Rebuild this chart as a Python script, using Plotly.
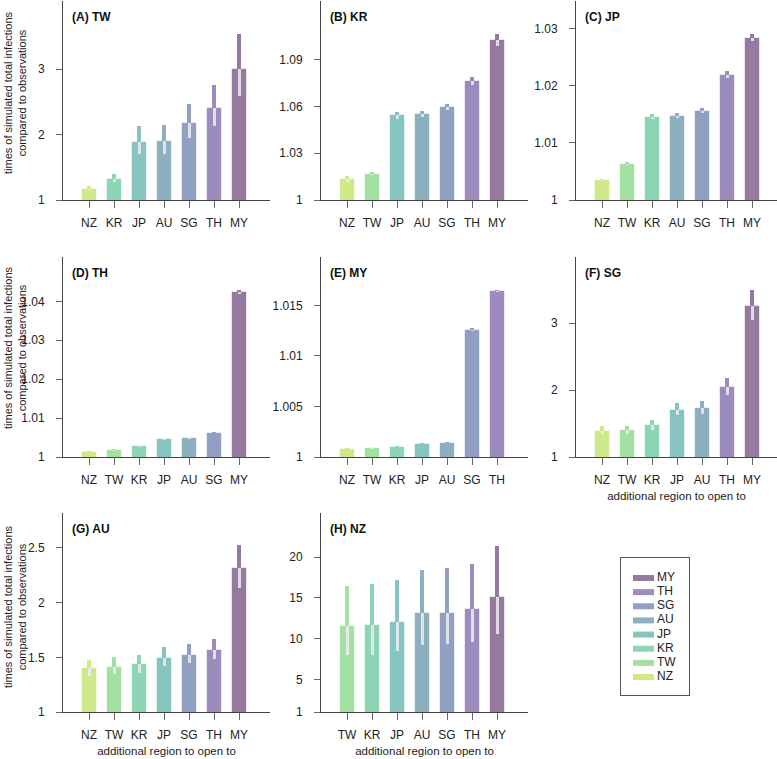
import plotly.graph_objects as go
from plotly.subplots import make_subplots

# colour per region
region_colors = {
    "NZ": "#cfe98a",
    "TW": "#a5e0a3",
    "KR": "#8cd5b5",
    "JP": "#87c3bf",
    "AU": "#8db0c0",
    "SG": "#909fc2",
    "TH": "#9b8cbd",
    "MY": "#957a9f",
}
legend_regions = ["NZ", "TW", "KR", "JP", "AU", "SG", "TH", "MY"]

# (A) TW
tw_regions = ["NZ", "KR", "JP", "AU", "SG", "TH", "MY"]
tw_median = [1.17, 1.325, 1.89, 1.90, 2.18, 2.40, 2.995]
tw_low = [1.15, 1.27, 1.70, 1.71, 1.95, 2.13, 2.59]
tw_high = [1.21, 1.40, 2.13, 2.14, 2.47, 2.76, 3.53]

# (B) KR
kr_regions = ["NZ", "TW", "JP", "AU", "SG", "TH", "MY"]
kr_median = [1.0135, 1.0169, 1.0543, 1.0552, 1.0597, 1.0763, 1.1026]
kr_low = [1.0113, 1.0158, 1.0522, 1.0530, 1.0577, 1.0736, 1.0990]
kr_high = [1.0152, 1.0175, 1.0564, 1.0573, 1.0618, 1.0791, 1.1067]

# (C) JP
jp_regions = ["NZ", "TW", "KR", "AU", "SG", "TH", "MY"]
jp_median = [1.0035, 1.00635, 1.0146, 1.0148, 1.0156, 1.0219, 1.02836]
jp_low = [1.0034, 1.0061, 1.0142, 1.0143, 1.0152, 1.0214, 1.0278]
jp_high = [1.00357, 1.0065, 1.0151, 1.0153, 1.0161, 1.0226, 1.02906]

# (D) TH
th_regions = ["NZ", "TW", "KR", "JP", "AU", "SG", "MY"]
th_median = [1.00137, 1.0017, 1.0027, 1.0045, 1.0048, 1.0062, 1.0423]
th_low = [1.00128, 1.0016, 1.00262, 1.00442, 1.00472, 1.00612, 1.0420]
th_high = [1.00145, 1.0019, 1.00278, 1.00458, 1.00488, 1.00628, 1.0428]

# (E) MY
my_regions = ["NZ", "TW", "KR", "JP", "AU", "SG", "TH"]
my_median = [1.00083, 1.00086, 1.00102, 1.00129, 1.00139, 1.01262, 1.01639]
my_low = [1.0008, 1.00083, 1.00099, 1.00126, 1.00136, 1.01252, 1.0163]
my_high = [1.00086, 1.00089, 1.00105, 1.00132, 1.00142, 1.01272, 1.01649]

# (F) SG
sg_regions = ["NZ", "TW", "KR", "JP", "AU", "TH", "MY"]
sg_median = [1.394, 1.40, 1.474, 1.70, 1.74, 2.05, 3.26]
sg_low = [1.34, 1.34, 1.41, 1.63, 1.65, 1.93, 3.045]
sg_high = [1.46, 1.47, 1.56, 1.80, 1.84, 2.18, 3.49]

# (G) AU
au_regions = ["NZ", "TW", "KR", "JP", "SG", "TH", "MY"]
au_median = [1.40, 1.415, 1.44, 1.497, 1.524, 1.57, 2.317]
au_low = [1.33, 1.345, 1.36, 1.42, 1.445, 1.485, 2.13]
au_high = [1.48, 1.50, 1.525, 1.59, 1.62, 1.67, 2.524]

# (H) NZ
nz_regions = ["TW", "KR", "JP", "AU", "SG", "TH", "MY"]
nz_median = [11.49, 11.65, 12.06, 13.08, 13.2, 13.57, 15.12]
nz_low = [7.94, 8.02, 8.43, 9.24, 9.37, 9.57, 10.59]
nz_high = [16.43, 16.71, 17.2, 18.43, 18.67, 19.2, 21.41]

panels = [
    ("(A) TW", tw_regions, tw_median, tw_low, tw_high, [1, 4.04], [1, 2, 3], ["1", "2", "3"]),
    ("(B) KR", kr_regions, kr_median, kr_low, kr_high, [1, 1.1276], [1, 1.03, 1.06, 1.09], ["1", "1.03", "1.06", "1.09"]),
    ("(C) JP", jp_regions, jp_median, jp_low, jp_high, [1, 1.0349], [1, 1.01, 1.02, 1.03], ["1", "1.01", "1.02", "1.03"]),
    ("(D) TH", th_regions, th_median, th_low, th_high, [1, 1.0514], [1, 1.01, 1.02, 1.03, 1.04], ["1", "1.01", "1.02", "1.03", "1.04"]),
    ("(E) MY", my_regions, my_median, my_low, my_high, [1, 1.0198], [1, 1.005, 1.01, 1.015], ["1", "1.005", "1.01", "1.015"]),
    ("(F) SG", sg_regions, sg_median, sg_low, sg_high, [1, 3.99], [1, 2, 3], ["1", "2", "3"]),
    ("(G) AU", au_regions, au_median, au_low, au_high, [1, 2.82], [1, 1.5, 2, 2.5], ["1", "1.5", "2", "2.5"]),
    ("(H) NZ", nz_regions, nz_median, nz_low, nz_high, [1, 25.4], [1, 5, 10, 15, 20], ["1", "5", "10", "15", "20"]),
]

W, H = 777, 759
col_px = [(63, 270), (321, 528), (576, 777)]
row_px = [(1, 200), (257, 457), (513, 712)]
ytitle_mid = [93, 348, 607]
FONT = "Liberation Sans, Arial, sans-serif"
TXT = "#222222"

fig = make_subplots(rows=3, cols=3)

for i, (title, regs, med, lo, hi, yr, tv, tt) in enumerate(panels):
    r, c = i // 3, i % 3
    cols = [region_colors[g] for g in regs]
    # main bar
    fig.add_trace(go.Bar(x=regs, y=med, width=0.6, marker=dict(color=cols, line=dict(color="rgba(255,255,255,0.6)", width=1)),
                         showlegend=False, hoverinfo="skip"), row=r + 1, col=c + 1)
    # upper part of the interval (coloured)
    fig.add_trace(go.Bar(x=regs, y=[h - m for h, m in zip(hi, med)], base=med, width=0.17,
                         marker=dict(color=cols, line=dict(width=0)), showlegend=False, hoverinfo="skip"), row=r + 1, col=c + 1)
    # lower part of the interval (light grey, inside the bar)
    fig.add_trace(go.Bar(x=regs, y=[m - l for m, l in zip(med, lo)], base=lo, width=0.12,
                         marker=dict(color="rgba(236,236,240,0.85)", line=dict(width=0)), showlegend=False, hoverinfo="skip"),
                  row=r + 1, col=c + 1)

    x0, x1 = col_px[c]
    top, bot = row_px[r]
    n = "" if i == 0 else str(i + 1)
    fig.layout["xaxis" + n].update(
        domain=[x0 / W, x1 / W], range=[-1.04, -1.04 + (x1 - x0) / 25.0], automargin=False,
        showline=True, linecolor="#444", linewidth=1, ticks="outside", ticklen=7, tickcolor="#666",
        showgrid=False, zeroline=False, tickfont=dict(size=12, color=TXT, family=FONT), ticklabelstandoff=5,
    )
    fig.layout["yaxis" + n].update(
        domain=[1 - bot / H, 1 - top / H], range=yr, tickvals=tv, ticktext=tt, automargin=False,
        showline=True, linecolor="#444", linewidth=1, ticks="outside", ticklen=6, tickcolor="#666",
        showgrid=False, zeroline=False, tickfont=dict(size=12, color=TXT, family=FONT), ticklabelstandoff=9,
    )
    if c == 0:
        fig.add_annotation(text="times of simulated total infections<br>compared to observations",
                           x=15 / W, y=1 - ytitle_mid[r] / H, xref="paper", yref="paper", textangle=-90,
                           xanchor="center", yanchor="middle", showarrow=False,
                           font=dict(size=11, color=TXT, family=FONT))
    if i >= 5:
        fig.layout["xaxis" + n].title = dict(text="additional region to open to",
                                             font=dict(size=11.5, color=TXT, family=FONT), standoff=5)
    fig.add_annotation(text="<b>" + title + "</b>", x=(x0 + 7) / W, y=1 - (top + 16) / H, xref="paper", yref="paper",
                       xanchor="left", yanchor="middle", showarrow=False, font=dict(size=12, color="#111", family=FONT))

# hand-made legend in the ninth cell
ly = list(range(len(legend_regions)))
fig.add_trace(go.Scatter(x=[22.5] * len(legend_regions), y=ly, mode="markers",
                         marker=dict(symbol="line-ew", size=15,
                                     line=dict(width=6, color=[region_colors[g] for g in legend_regions])),
                         showlegend=False, hoverinfo="skip"), row=3, col=3)
fig.add_trace(go.Scatter(x=[36] * len(legend_regions), y=ly, mode="text", text=legend_regions,
                         textposition="middle right", textfont=dict(size=12, color=TXT, family=FONT),
                         showlegend=False, hoverinfo="skip"), row=3, col=3)
fig.layout.xaxis9.update(domain=[621 / W, 689 / W], range=[0, 68], showline=True, mirror=True, linecolor="#555",
                         showticklabels=False, ticks="", showgrid=False, zeroline=False, automargin=False)
fig.layout.yaxis9.update(domain=[1 - 695 / H, 1 - 558 / H], range=[-1.27, 8.41], showline=True, mirror=True, linecolor="#555",
                         showticklabels=False, ticks="", showgrid=False, zeroline=False, automargin=False)

fig.update_layout(
    width=W, height=H, barmode="overlay", bargap=0,
    margin=dict(l=0, r=0, t=0, b=0, autoexpand=False),
    paper_bgcolor="white", plot_bgcolor="white",
    font=dict(family=FONT, color=TXT),
)

# the page body has a default 8px margin; drop it so the figure sits at the window corner
fig.write_html("out.html", config={"displayModeBar": False},
               post_script="document.body.style.margin='0';")
